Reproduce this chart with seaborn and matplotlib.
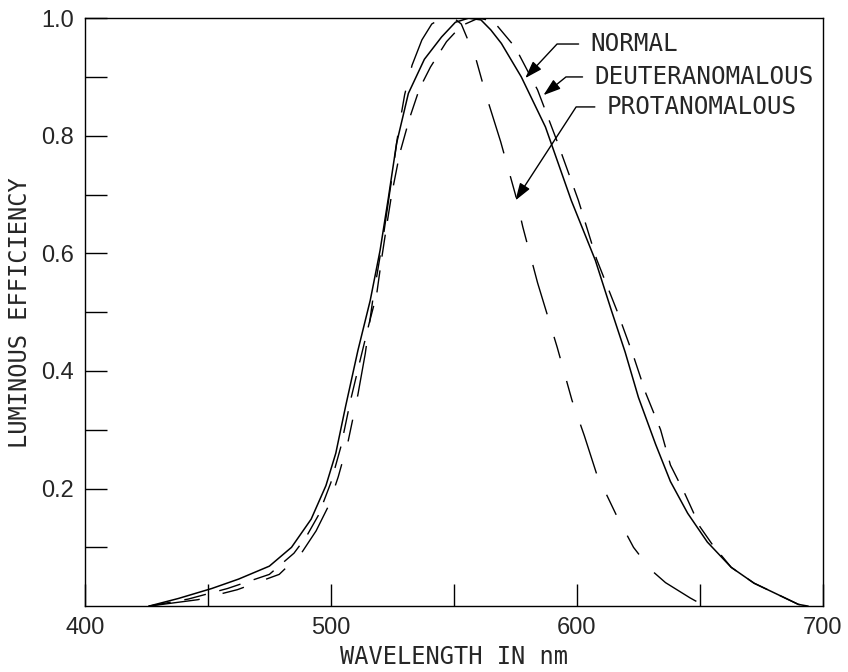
import seaborn as sns
import matplotlib.pyplot as plt

# Werte (Wellenlaenge in nm, relative Hellempfindlichkeit)
normal_nm = [426, 438, 451.6, 462.5, 475, 484, 492, 498, 502, 506, 511, 516, 520, 523.4,
             526.7, 531.5, 538, 545, 550.6, 556, 561, 565, 569.3, 577.4, 587.2, 597.7,
             607.5, 614, 619.6, 625, 632, 638, 645, 653, 662.7, 672, 682, 690, 694]
normal_eff = [0.0, 0.013, 0.030, 0.046, 0.068, 0.10, 0.148, 0.205, 0.26, 0.34, 0.435, 0.52,
              0.605, 0.695, 0.787, 0.872, 0.93, 0.968, 0.993, 1.0, 0.997, 0.98, 0.957, 0.90,
              0.815, 0.69, 0.588, 0.503, 0.432, 0.355, 0.275, 0.212, 0.158, 0.109, 0.066,
              0.039, 0.019, 0.003, 0.0]

deut_nm = [426, 442, 458, 475, 485, 490, 495, 500, 504, 508, 512, 515.5, 518.6, 520.6,
           522.6, 524.7, 528, 532, 536, 540.5, 547, 553, 560, 566, 570, 575, 580, 584,
           592, 600.6, 608, 616.5, 623, 628, 634, 638, 644, 650, 655, 662.7, 672, 682, 690, 694]
deut_eff = [0.0, 0.012, 0.030, 0.054, 0.09, 0.118, 0.155, 0.21, 0.27, 0.35, 0.42, 0.48,
            0.53, 0.59, 0.645, 0.70, 0.77, 0.83, 0.88, 0.917, 0.96, 0.987, 1.0, 0.995,
            0.975, 0.95, 0.91, 0.878, 0.79, 0.69, 0.59, 0.50, 0.425, 0.362, 0.30, 0.24,
            0.19, 0.135, 0.105, 0.066, 0.039, 0.019, 0.003, 0.0]

prot_nm = [426, 446, 462, 479, 488, 494, 499, 503, 507, 511, 514, 517, 521, 524.5, 527.5,
           530, 533, 537, 541, 545, 550, 553, 556, 559, 563, 569, 575, 578, 584, 592, 598,
           603, 608, 616, 623, 630, 636, 641, 646, 652]
prot_eff = [0.0, 0.011, 0.028, 0.054, 0.09, 0.128, 0.17, 0.22, 0.28, 0.36, 0.43, 0.52, 0.62,
            0.72, 0.81, 0.87, 0.92, 0.963, 0.99, 1.0, 1.0, 0.99, 0.96, 0.93, 0.87, 0.79,
            0.70, 0.645, 0.55, 0.44, 0.35, 0.29, 0.225, 0.155, 0.10, 0.062, 0.04, 0.027,
            0.014, 0.0]

xtick_pos = [400, 450, 500, 550, 600, 650, 700]
xtick_lab = ['400', '', '500', '', '600', '', '700']
ytick_pos = [0.1, 0.2, 0.3, 0.4, 0.5, 0.6, 0.7, 0.8, 0.9, 1.0]
ytick_lab = ['', '0.2', '', '0.4', '', '0.6', '', '0.8', '', '1.0']

sns.set_style("white")
plt.rcParams['font.family'] = ['DejaVu Sans Mono', 'DejaVu Sans']

fig = plt.figure(figsize=(8.48, 6.72), dpi=100)
ax = fig.add_axes([0.100, 0.098, 0.8705, 0.875])

sns.lineplot(x=normal_nm, y=normal_eff, ax=ax, color='black', lw=1.1,
             estimator=None, sort=False)
sns.lineplot(x=deut_nm, y=deut_eff, ax=ax, color='black', lw=1.0,
             linestyle=(0, (16, 10)), estimator=None, sort=False)
sns.lineplot(x=prot_nm, y=prot_eff, ax=ax, color='black', lw=1.0,
             linestyle=(0, (37, 17, 16, 17, 16, 17)), estimator=None, sort=False)

ax.set_xlim(400, 700)
ax.set_ylim(0, 1.0)
ax.set_xticks(xtick_pos)
ax.set_xticklabels(xtick_lab, fontfamily='Liberation Sans', fontsize=17)
ax.set_yticks(ytick_pos)
ax.set_yticklabels(ytick_lab, fontfamily='Liberation Sans', fontsize=17)
ax.tick_params(direction='in', length=16, width=1.0, color='black',
               top=False, right=False, bottom=True, left=True, pad=8)
for s in ax.spines.values():
    s.set_color('black')
    s.set_linewidth(1.0)

ax.set_xlabel('WAVELENGTH IN nm', fontsize=17, labelpad=4)
ax.set_ylabel('LUMINOUS EFFICIENCY', fontsize=17, labelpad=6)

# Beschriftungen mit Pfeilen
def pfeil(winkel):
    return dict(arrowstyle='-|>,head_length=0.6,head_width=0.2', color='black', lw=1.0,
                shrinkA=6, shrinkB=0,
                connectionstyle='angle,angleA=0,angleB=%d,rad=0' % winkel)

ax.annotate('NORMAL', xy=(579, 0.898), xytext=(605.4, 0.956), ha='left', va='center',
            fontsize=17.5, arrowprops=pfeil(47))
ax.annotate('DEUTERANOMALOUS', xy=(586.4, 0.869), xytext=(607, 0.90), ha='left',
            va='center', fontsize=17.5, arrowprops=pfeil(39))
ax.annotate('PROTANOMALOUS', xy=(575, 0.69), xytext=(612, 0.849), ha='left',
            va='center', fontsize=17.5, arrowprops=pfeil(57))

plt.savefig('out.png', dpi=100)
